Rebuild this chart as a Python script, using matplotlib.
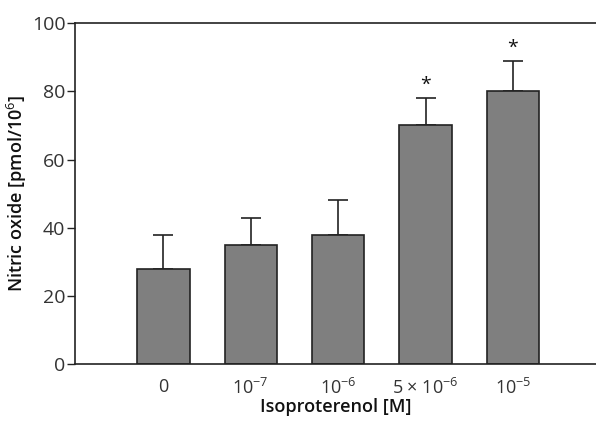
import numpy as np
import matplotlib
matplotlib.use('Agg')
import matplotlib.pyplot as plt

plt.rcParams['font.family'] = ['Open Sans', 'DejaVu Sans']
plt.rcParams['mathtext.fontset'] = 'custom'
plt.rcParams['mathtext.rm'] = 'Open Sans'
plt.rcParams['mathtext.it'] = 'Open Sans'
plt.rcParams['mathtext.bf'] = 'Open Sans:bold'

# data
labels = ['0', '10$^{-7}$', '10$^{-6}$', '5 × 10$^{-6}$', '10$^{-5}$']
values = [28, 35, 38, 70, 80]
errors = [10, 8, 10, 8, 9]
signif = [False, False, False, True, True]

txt = '#333333'
x = np.arange(len(values))

fig = plt.figure(figsize=(5.96, 4.21), dpi=100)
ax = fig.add_axes([0.126, 0.135, 0.874, 0.81])

ax.bar(x, values, width=0.6, color='#7f7f7f', edgecolor='#222222', linewidth=1.2, zorder=2)
ax.errorbar(x, values, yerr=[np.zeros(len(errors)), errors], fmt='none',
            ecolor='#222222', elinewidth=1.2, capsize=7.3, capthick=1.2, zorder=1)
for xi, v, e, s in zip(x, values, errors, signif):
    if s:
        ax.text(xi, v + e + 1.2, '*', ha='center', va='bottom', fontsize=14, color='#111111')

ax.set_xlim(-1.01, 4.95)
ax.set_ylim(0, 100)
ax.set_yticks([0, 20, 40, 60, 80, 100])
ax.set_xticks(x)
ax.set_xticklabels(labels)
ax.tick_params(axis='y', direction='out', length=6, width=1, colors='#222222',
               labelcolor=txt, labelsize=14, pad=1)
ax.tick_params(axis='x', length=0, labelcolor=txt, labelsize=13, pad=10)

ax.spines['right'].set_visible(False)
for sp in ['left', 'top', 'bottom']:
    ax.spines[sp].set_color('#222222')
    ax.spines[sp].set_linewidth(1.2)

ax.set_xlabel('Isoproterenol [M]', fontsize=13, fontweight='semibold', color='#111111', labelpad=0)
ax.set_ylabel('Nitric oxide [pmol/10$^{6}$]', fontsize=13, fontweight='semibold', color='#111111', labelpad=2)

fig.savefig('out.png', dpi=100)
